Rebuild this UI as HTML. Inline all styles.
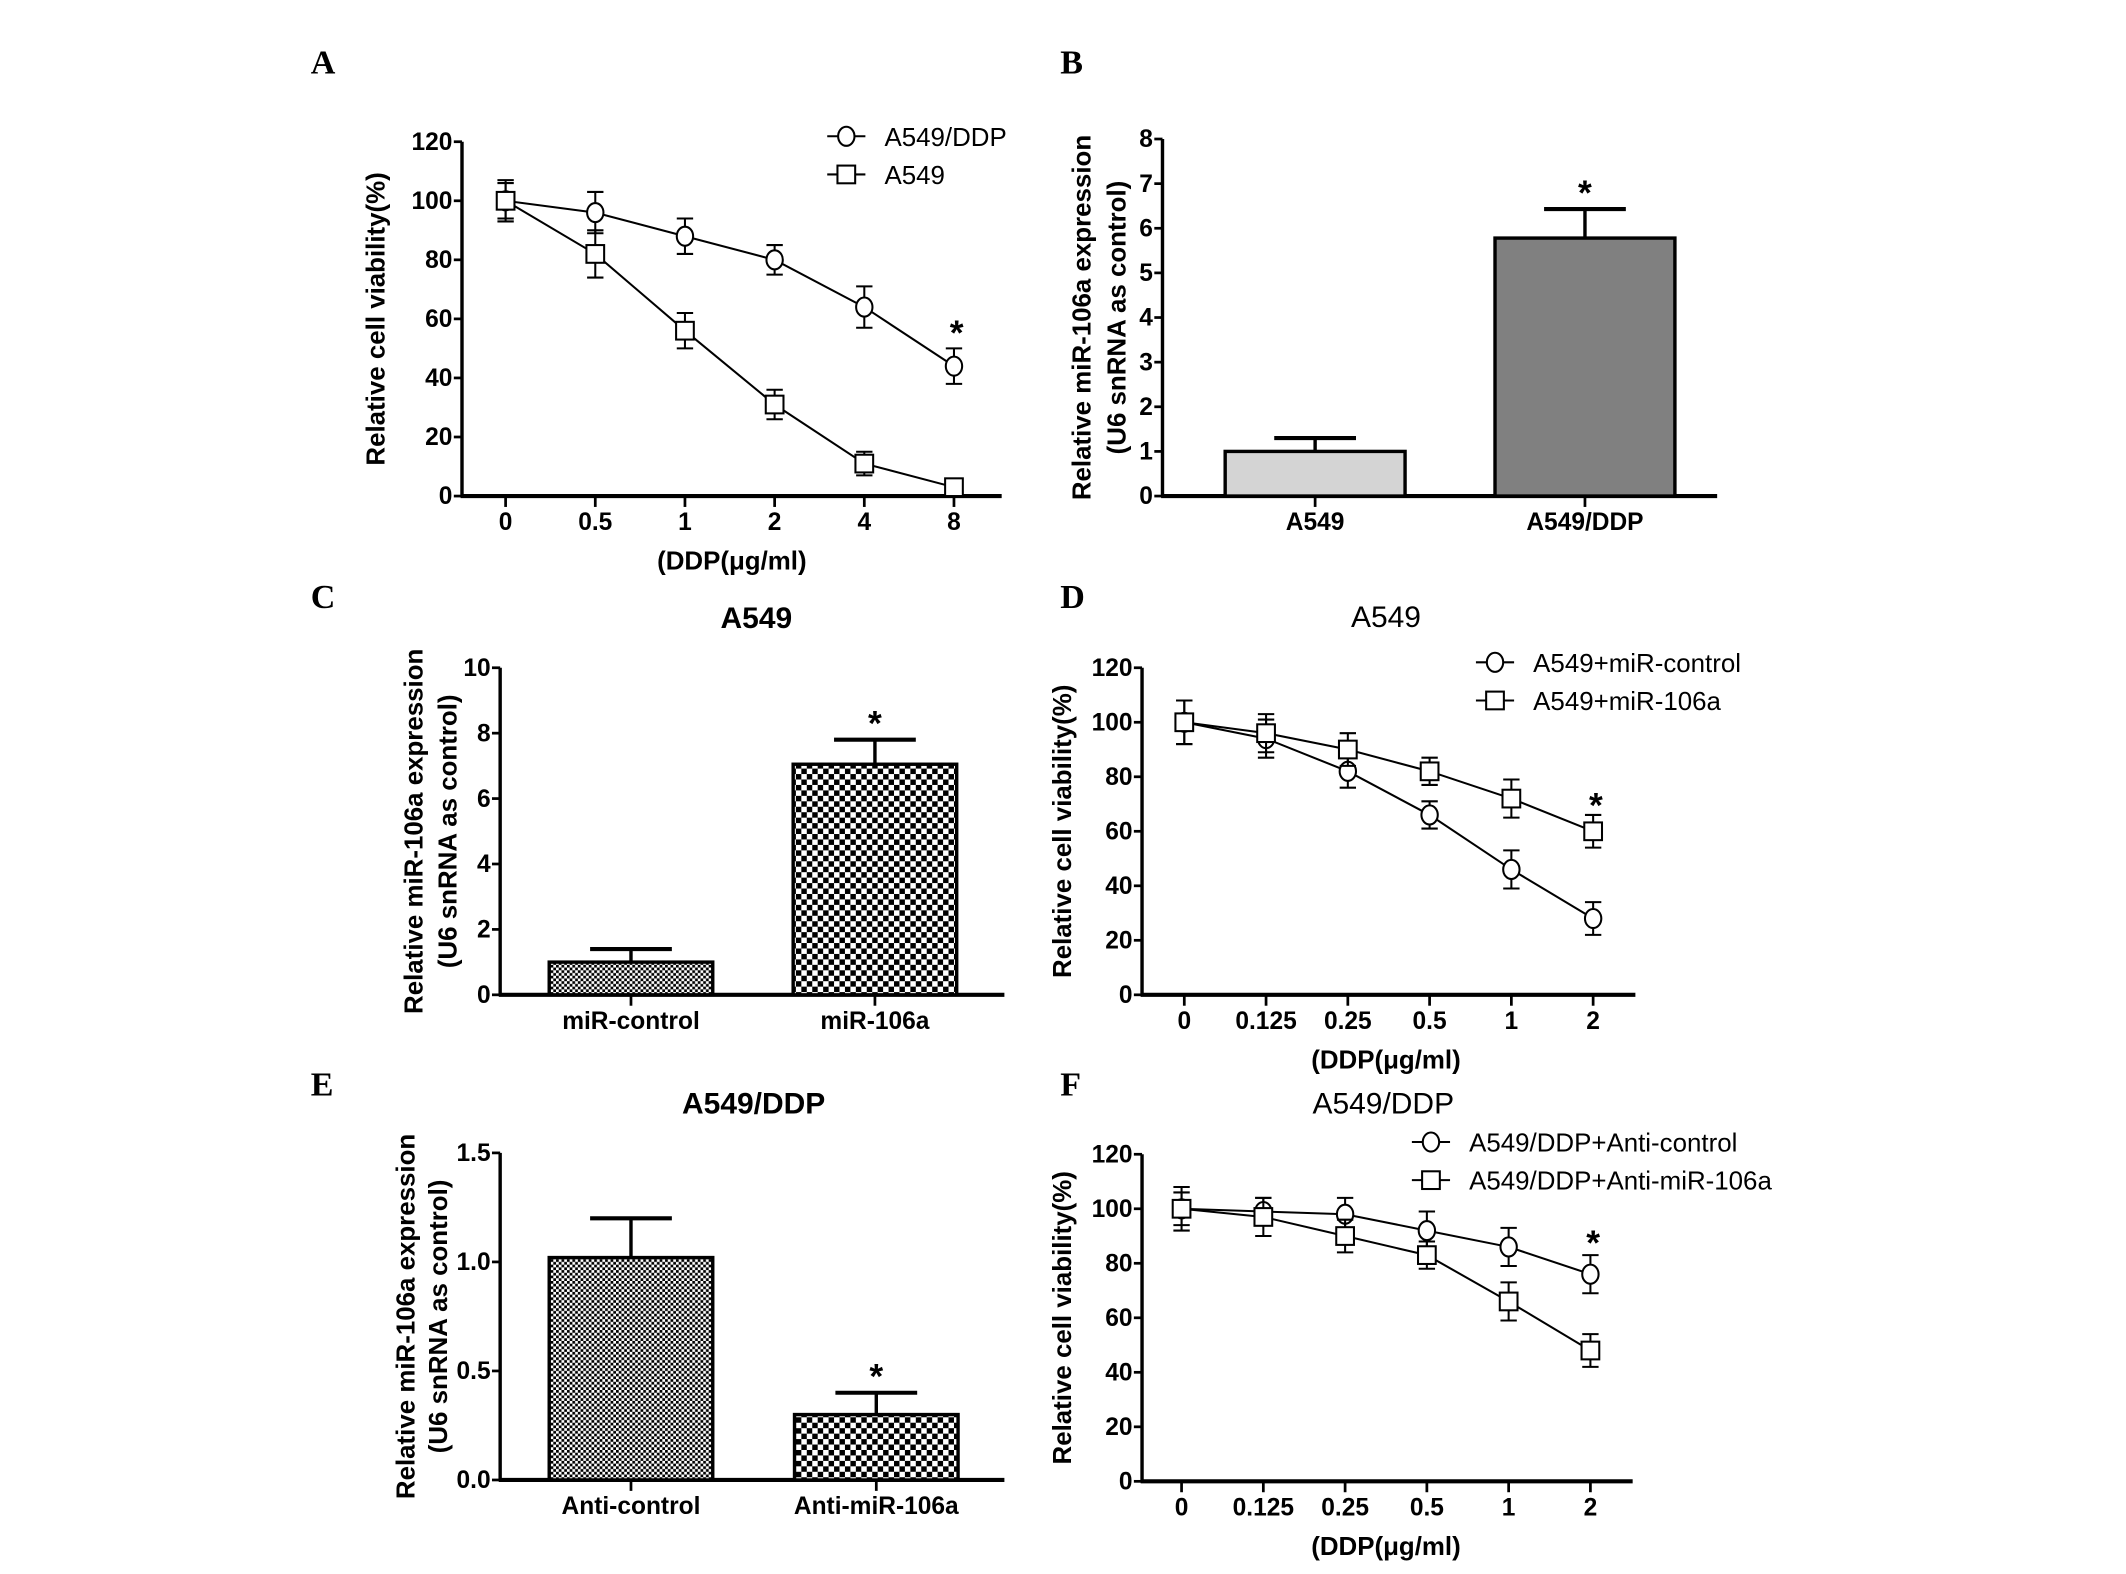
<!DOCTYPE html>
<html><head><meta charset="utf-8"><style>
html,body{margin:0;padding:0;background:#fff;}
svg{display:block;}
text{font-family:"Liberation Sans",Arial,sans-serif;}
.lbl{font-family:"Liberation Serif",serif;font-weight:bold;font-size:25px;}
.tk{font-family:"Liberation Sans Narrow","Liberation Sans",sans-serif;font-weight:bold;font-size:18px;}
.ax{font-weight:bold;font-size:19px;}
.lg{font-size:19px;}
</style></head><body>
<svg id="fig" width="2126" height="1574" viewBox="0 0 1560 1155" preserveAspectRatio="none">
<defs>
<pattern id="pFine" width="4" height="4" patternUnits="userSpaceOnUse"><rect width="4" height="4" fill="#fff"/><rect width="2" height="2" fill="#000"/><rect x="2" y="2" width="2" height="2" fill="#000"/></pattern>
<pattern id="pCoarse" width="8" height="8" patternUnits="userSpaceOnUse"><rect width="8" height="8" fill="#fff"/><rect width="4" height="4" fill="#000"/><rect x="4" y="4" width="4" height="4" fill="#000"/></pattern>
</defs>
</svg>
<script>
// Panel A data
const aCats = ["0","0.5","1","2","4","8"];
const aDdp = [100,96,88,80,64,44];
const aDdpErr = [7,7,6,5,7,6];
const aA549 = [100,82,56,31,11,3];
const aA549Err = [6,8,6,5,4,1];
const aTicks = [0,20,40,60,80,100,120];
// Panel B data
const bCats = ["A549","A549/DDP"];
const bVals = [1,5.78];
const bErr = [0.3,0.65];
const bTicks = [0,1,2,3,4,5,6,7,8];
// Panel C data
const cCats = ["miR-control","miR-106a"];
const cVals = [1,7.05];
const cErr = [0.4,0.75];
const cTicks = [0,2,4,6,8,10];
// Panel D data
const dCats = ["0","0.125","0.25","0.5","1","2"];
const dCtrl = [100,94,82,66,46,28];
const dCtrlErr = [8,7,6,5,7,6];
const dMir = [100,96,90,82,72,60];
const dMirErr = [8,7,6,5,7,6];
const dTicks = [0,20,40,60,80,100,120];
// Panel E data
const eCats = ["Anti-control","Anti-miR-106a"];
const eVals = [1.02,0.3];
const eErr = [0.18,0.1];
const eTicks = ["0.0","0.5","1.0","1.5"];
// Panel F data
const fCats = ["0","0.125","0.25","0.5","1","2"];
const fCtrl = [100,99,98,92,86,76];
const fCtrlErr = [8,5,6,7,7,7];
const fAnti = [100,97,90,83,66,48];
const fAntiErr = [6,7,6,5,7,6];
const fTicks = [0,20,40,60,80,100,120];

const NS="http://www.w3.org/2000/svg";
const svg=document.getElementById('fig');
function el(tag,attrs,parent,txt){const e=document.createElementNS(NS,tag);for(const k in attrs)e.setAttribute(k,attrs[k]);if(txt!==undefined)e.textContent=txt;(parent||svg).appendChild(e);return e;}

function axes(g,o){
  const yS=v=>o.y0-(v-o.ymin)/(o.ymax-o.ymin)*(o.y0-o.y1);
  const ax=el('line',{x1:o.x0,y1:o.y0+1,x2:o.x0,y2:o.y1,stroke:'#000','stroke-width':2.5},g);
  
  
  const bx=el('line',{x1:o.x0-1,y1:o.y0,x2:o.xend,y2:o.y0,stroke:'#000','stroke-width':3},g);
  
  
  o.ticks.forEach(t=>{const y=yS(parseFloat(t));
    el('line',{x1:o.x0-6,y1:y,x2:o.x0,y2:y,stroke:'#000','stroke-width':2},g);
    const tl=el('text',{x:o.x0-7,y:y+6,'text-anchor':'end',class:'tk'},g,String(t));
    
    
  });
  return yS;
}
function xlabels(g,xs,cats,y0,ly){
  cats.forEach((c,i)=>{
    el('line',{x1:xs[i],y1:y0,x2:xs[i],y2:y0+8,stroke:'#000','stroke-width':2},g);
    const t=el('text',{x:xs[i],y:ly,'text-anchor':'middle',class:'tk'},g,c);
    
    
  });
}
function ylabel(g,lines,xs,cy){
  lines.forEach((l,i)=>{const t=el('text',{x:xs[i],y:cy,'text-anchor':'middle',class:'ax',transform:`rotate(-90 ${xs[i]} ${cy})`},g,l);
    
    });
}
function panelLabel(txt,x,y){const t=el('text',{x:x,y:y,class:'lbl'},svg,txt);
  
  }
function marker(g,type,x,y){
  if(type==='c') return el('ellipse',{cx:x,cy:y,rx:6,ry:7,fill:'#fff',stroke:'#000','stroke-width':1.5},g);
  return el('rect',{x:x-6.5,y:y-6.5,width:13,height:13,fill:'#fff',stroke:'#000','stroke-width':1.5},g);
}
function series(g,xs,vals,errs,yS,type,name){
  const s=el('g',{},g);
  
  
  el('polyline',{points:vals.map((v,i)=>xs[i]+','+yS(v)).join(' '),fill:'none',stroke:'#000','stroke-width':1.5},s);
  vals.forEach((v,i)=>{const x=xs[i];const yt=yS(v+errs[i]),yb=yS(v-errs[i]);
    el('line',{x1:x,y1:yt,x2:x,y2:yb,stroke:'#000','stroke-width':1.5},s);
    el('line',{x1:x-6,y1:yt,x2:x+6,y2:yt,stroke:'#000','stroke-width':1.5},s);
    el('line',{x1:x-6,y1:yb,x2:x+6,y2:yb,stroke:'#000','stroke-width':1.5},s);
  });
  vals.forEach((v,i)=>{const m=marker(s,type,xs[i],yS(v));
    
    });
}
function legend(g,x,y,type,txt){
  const lg=el('g',{},g);
  
  
  el('line',{x1:x-14,y1:y,x2:x+14,y2:y,stroke:'#000','stroke-width':1.5},lg);
  marker(lg,type,x,y);
  el('text',{x:x+28,y:y+7,class:'lg'},lg,txt);
}
function star(g,x,y){const t=el('text',{x:x,y:y,'text-anchor':'middle','font-weight':'bold','font-size':'26'},g,'*');
  
  }
function lineChart(o){
  const g=el('g',{});
  const yS=axes(g,o);
  const xs=o.cats.map((c,i)=>o.xf+i*o.dx);
  xlabels(g,xs,o.cats,o.y0,o.y0+25);
  const xt=el('text',{x:o.xtx,y:o.y0+54,'text-anchor':'middle',class:'ax'},g,'(DDP(μg/ml)');
  
  
  ylabel(g,['Relative cell viability(%)'],[o.ylx],(o.y0+o.y1)/2);
  series(g,xs,o.s1,o.e1,yS,'c',o.n1);
  series(g,xs,o.s2,o.e2,yS,'s',o.n2);
  legend(g,o.lx,o.ly,'c',o.l1);legend(g,o.lx,o.ly+28,'s',o.l2);
  const last=xs.length-1;
  star(g,xs[last]+2,yS(o.starV)+2);
  if(o.title){const t=el('text',{x:o.title[1],y:o.title[2],'text-anchor':'middle','font-size':'22'},g,o.title[0]);
    }
}
function barChart(o){
  const g=el('g',{});
  const yS=axes(g,o);
  o.vals.forEach((v,i)=>{const xl=o.bx[i],w=o.bw;const y=yS(v);
    const r=el('rect',{x:xl,y:y,width:w,height:o.y0-y,fill:o.fills[i],stroke:'#000','stroke-width':2.5},g);
    
    
    const cx=xl+w/2,yt=yS(v+o.errs[i]);
    el('line',{x1:cx,y1:y,x2:cx,y2:yt,stroke:'#000','stroke-width':2.5},g);
    el('line',{x1:cx-30,y1:yt,x2:cx+30,y2:yt,stroke:'#000','stroke-width':3},g);
    if(o.starIdx===i) star(g,cx,yt-3);
  });
  xlabels(g,o.bx.map(x=>x+o.bw/2),o.cats,o.y0,o.y0+25);
  ylabel(g,['Relative miR-106a expression','(U6 snRNA as control)'],o.ylx,(o.y0+o.y1)/2);
  if(o.title){const t=el('text',{x:o.title[1],y:o.title[2],'text-anchor':'middle','font-size':'22','font-weight':'bold'},g,o.title[0]);
    }
}

panelLabel('A',228,54);panelLabel('B',778,54);panelLabel('C',228,446);
panelLabel('D',778,446);panelLabel('E',228,804);panelLabel('F',778,804);

lineChart({name:'chart-a',x0:339,y0:364,y1:104,xend:735,ymin:0,ymax:120,ticks:aTicks,cats:aCats,xf:371,dx:65.8,xtx:537,ylx:282,
  s1:aDdp,e1:aDdpErr,s2:aA549,e2:aA549Err,n1:'series-a549-ddp',n2:'series-a549',lx:621,ly:100,l1:'A549/DDP',l2:'A549',starV:52});
barChart({name:'chart-b',x0:853,y0:364,y1:102,xend:1260,ymin:0,ymax:8,ticks:bTicks,cats:bCats,vals:bVals,errs:bErr,bx:[899,1097],bw:132,
  fills:['#d4d4d4','#808080'],starIdx:1,ylx:[800,826]});
barChart({name:'chart-c',x0:367,y0:730,y1:490,xend:737,ymin:0,ymax:10,ticks:cTicks,cats:cCats,vals:cVals,errs:cErr,bx:[403,582],bw:120,
  fills:['url(#pFine)','url(#pCoarse)'],starIdx:1,ylx:[310,335],title:['A549',555,461]});
lineChart({name:'chart-d',x0:838,y0:730,y1:490,xend:1200,ymin:0,ymax:120,ticks:dTicks,cats:dCats,xf:869,dx:60,xtx:1017,ylx:786,
  s1:dCtrl,e1:dCtrlErr,s2:dMir,e2:dMirErr,n1:'series-mir-control',n2:'series-mir-106a',lx:1097,ly:486,l1:'A549+miR-control',l2:'A549+miR-106a',starV:66,
  title:['A549',1017,460]});
barChart({name:'chart-e',x0:367,y0:1086,y1:846,xend:737,ymin:0,ymax:1.5,ticks:eTicks,cats:eCats,vals:eVals,errs:eErr,bx:[403,583],bw:120,
  fills:['url(#pFine)','url(#pCoarse)'],starIdx:1,ylx:[304,328],title:['A549/DDP',553,817]});
lineChart({name:'chart-f',x0:838,y0:1087,y1:847,xend:1198,ymin:0,ymax:120,ticks:fTicks,cats:fCats,xf:867,dx:60,xtx:1017,ylx:786,
  s1:fCtrl,e1:fCtrlErr,s2:fAnti,e2:fAntiErr,n1:'series-anti-control',n2:'series-anti-mir-106a',lx:1050,ly:838,l1:'A549/DDP+Anti-control',l2:'A549/DDP+Anti-miR-106a',starV:84,
  title:['A549/DDP',1015,817]});
</script>
</body></html>
